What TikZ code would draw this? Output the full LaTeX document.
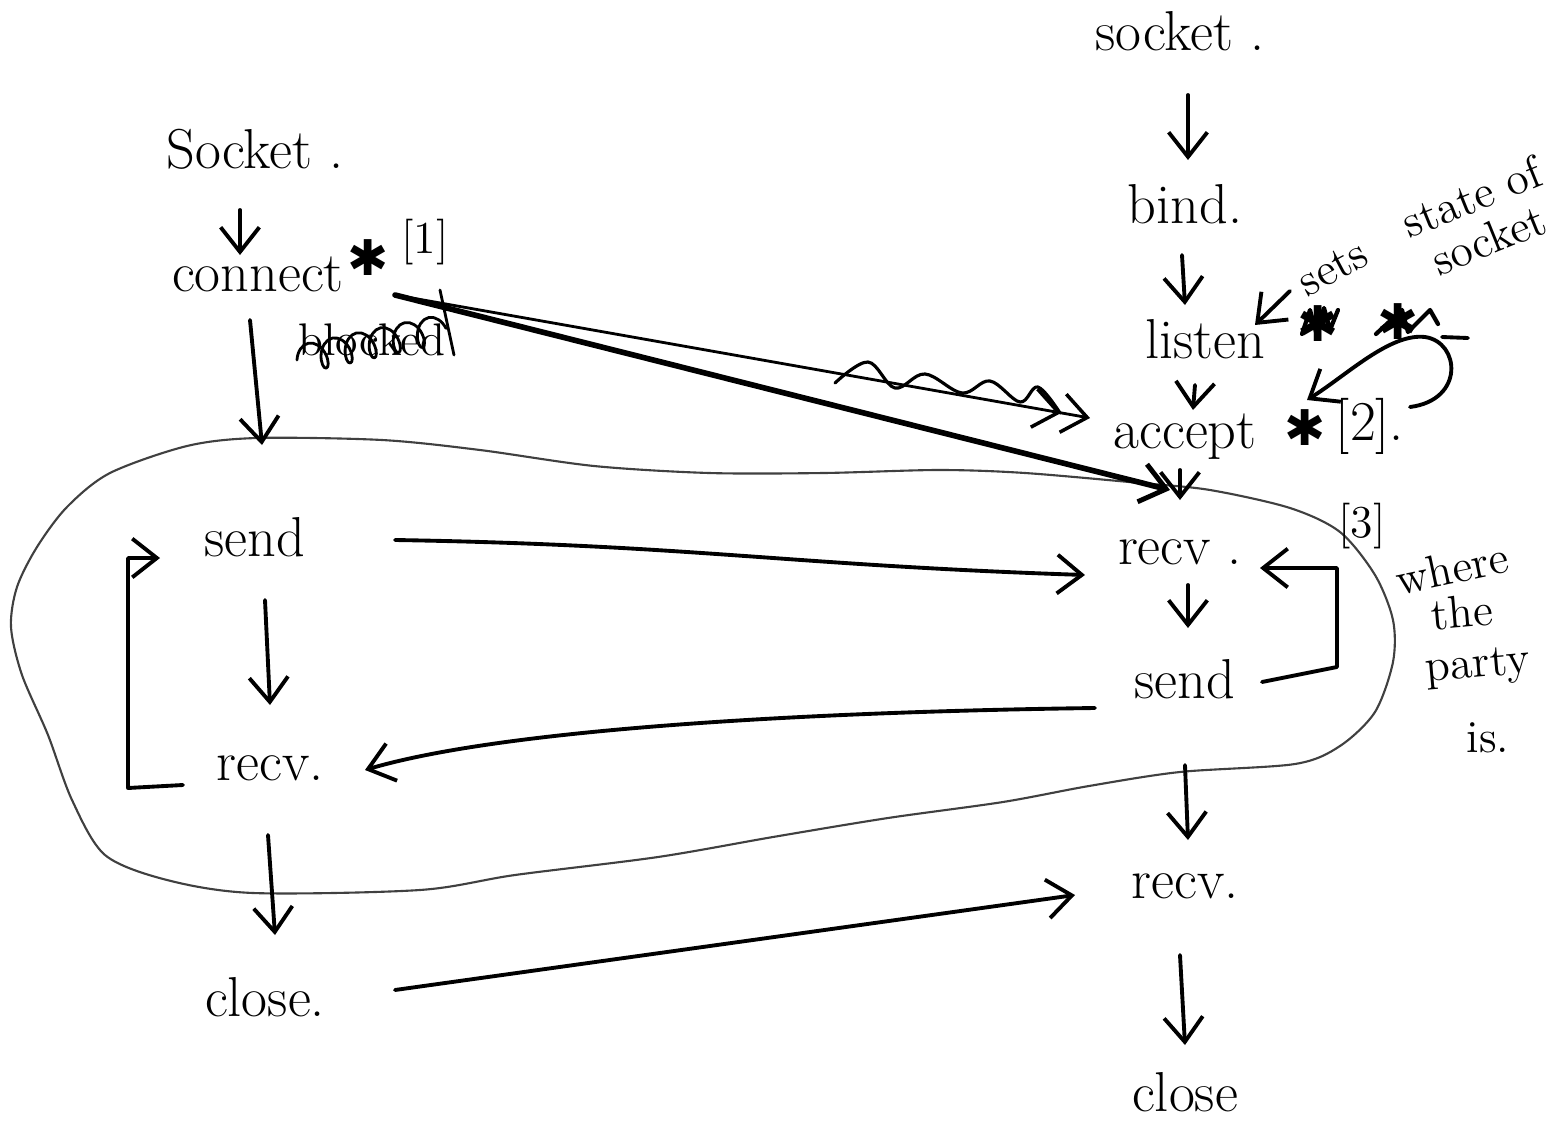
\documentclass[tikz,border=0pt]{standalone}
\usepackage{fontspec}
\newfontfamily\symf{DejaVu Sans}
\usetikzlibrary{arrows.meta,decorations.pathmorphing}
\begin{document}
\begin{tikzpicture}[x=0.01cm,y=-0.01cm,
  txt/.style={inner sep=0pt,text height=0.7em,text depth=0.2em,font=\fontsize{16}{19}\selectfont},
  small/.style={inner sep=0pt,font=\fontsize{13}{15}\selectfont},
  star/.style={inner sep=0pt,font=\symf\fontsize{14}{16}\selectfont},
  pen/.style={line width=1.1pt,line cap=round,line join=round},
  arr/.style={pen,-{Straight Barb[length=7pt,width=11pt,line width=1.1pt]}},
  thick arr/.style={line width=1.6pt,line cap=round,-{Straight Barb[length=7pt,width=11pt,line width=1.4pt]}},
  scribble/.style={line width=1.2pt,line cap=round,line join=round},
  loopline/.style={line width=0.6pt,draw=black!75}]
\useasboundingbox[fill=white] (0,0) rectangle (1553,1130);

% ---------- the "party" loop ----------
\draw[loopline] plot[smooth cycle,tension=0.5] coordinates {
  (257,438) (382,440) (480,450) (594,466) (709,473) (824,473) (939,470)
  (1025,473) (1140,483) (1210,490) (1290,508) (1340,532) (1375,575)
  (1393,620) (1393,662) (1375,712) (1340,746) (1295,764) (1180,772)
  (1089,786) (1003,802) (888,818) (773,837) (658,857) (515,875) (420,890)
  (253,893) (167,880) (105,855) (72,800) (48,735) (22,675) (11,627)
  (17,587) (37,547) (67,507) (110,473) (187,446)};

% ---------- left column ----------
\node[txt] (lsock)  at (255,160)  {Socket .};
\node[txt] (lconn)  at (258,283)  {connect};
\node[star] (lstar) at (368,258)  {✱};
\node[small] (lref1) at (425,242) {[1]};
\node[small] (lblk) at (372,340)  {blocked};
\node[txt] (lsend)  at (255,548)  {send};
\node[txt] (lrecv)  at (270,772)  {recv.};
\node[txt] (lclose) at (265,1008) {close.};

% scribble over "blocked"
\draw[pen,line width=0.8pt,decorate,decoration={coil,aspect=0.6,amplitude=4pt,segment length=7pt}]
  ([shift={(-75,20)}]lblk.center) -- ([shift={(75,-12)}]lblk.center);
\draw[pen,line width=0.8pt] ([shift={(68,-50)}]lblk.center) -- ([shift={(82,15)}]lblk.center);

% ---------- right column ----------
\node[txt] (rsock)  at (1180,42)  {socket .};
\node[txt] (rbind)  at (1185,215) {bind.};
\node[txt] (rlisten) at (1205,350) {listen};
\node[txt] (racc)   at (1185,440) {accept};
\node[star] (rstar) at (1305,428) {✱};
\node[txt] (rref2)  at (1370,432) {[2].};
\node[txt] (rrecv1) at (1180,556) {recv .};
\node[txt] (rsend)  at (1185,690) {send};
\node[txt] (rrecv2) at (1185,890) {recv.};
\node[txt] (rclose) at (1185,1103) {close};

% notes
\node[small,rotate=28] (sets) at (1333,268) {sets};
\node[small,rotate=22,align=center] (state) at (1480,218) {state of\\[-2pt]socket};
\node[star] (xs1) at (1318,324) {✱};
\node[star] (xs2) at (1398,322) {✱};
\node[small] (ref3) at (1362,526) {[3]};
\node[small,rotate=12] (where) at (1452,568) {where};
\node[small,rotate=5] (the) at (1462,612) {the};
\node[small,rotate=5] (party) at (1478,668) {party};
\node[small] (is) at (1488,738) {is.};

% scribbles over the two crossed-out stars
\draw[scribble] ([shift={(-16,10)}]xs1.center) -- ++(8,-24) -- ++(6,22) -- ++(8,-24) -- ++(6,22) -- ++(8,-20);
\draw[scribble] ([shift={(-22,12)}]xs2.center) -- ++(26,-24) -- ++(6,22) -- ++(22,-22) -- ++(8,14);

% ---------- vertical arrows ----------
\draw[arr] ([shift={(-15,50)}]lsock.center) -- ([shift={(-18,-28)}]lconn.center);
\draw[arr] ([shift={(-8,37)}]lconn.center) -- ([shift={(7,-103)}]lsend.center);
\draw[arr] ([shift={(10,52)}]lsend.center) -- ([shift={(0,-67)}]lrecv.center);
\draw[arr] ([shift={(-2,63)}]lrecv.center) -- ([shift={(10,-73)}]lclose.center);

\draw[arr] ([shift={(8,53)}]rsock.center) -- ([shift={(3,-55)}]rbind.center);
\draw[arr] ([shift={(-3,40)}]rbind.center) -- ([shift={(-20,-45)}]rlisten.center);
\draw[arr] ([shift={(-10,35)}]rlisten.center) -- ([shift={(8,-30)}]racc.center);
\draw[arr] ([shift={(-5,30)}]racc.center) -- ([shift={(0,-56)}]rrecv1.center);
\draw[arr] ([shift={(8,29)}]rrecv1.center) -- ([shift={(3,-62)}]rsend.center);
\draw[arr] ([shift={(0,75)}]rsend.center) -- ([shift={(3,-50)}]rrecv2.center);
\draw[arr] ([shift={(-5,65)}]rrecv2.center) -- ([shift={(0,-58)}]rclose.center);

% ---------- cross arrows ----------
\draw[arr] ([shift={(140,-8)}]lsend.center) .. controls +(300,5) and +(-300,-10) .. ([shift={(-95,19)}]rrecv1.center);
\draw[arr] ([shift={(-90,18)}]rsend.center) .. controls +(-300,4) and +(135,-40) .. ([shift={(95,-2)}]lrecv.center);
\draw[arr] ([shift={(130,-18)}]lclose.center) -- ([shift={(-110,5)}]rrecv2.center);

% connect -> accept
\draw[thick arr] ([shift={(137,12)}]lconn.center) -- ([shift={(-15,50)}]racc.center);
\draw[pen,line width=0.8pt,-{Straight Barb[length=7pt,width=11pt,line width=1pt]Straight Barb[length=7pt,width=11pt,line width=1pt]}]
  ([shift={(137,12)}]lconn.center) -- ([shift={(-95,-22)}]racc.center);
\draw[pen,line width=0.9pt] plot[smooth,tension=0.6] coordinates {
  (835,383) (868,362) (895,388) (925,374) (962,393) (990,381) (1020,402) (1038,387) (1060,413)};

% brackets (repeat loops)
\draw[arr] ([shift={(-87,13)}]lrecv.center) -- ++(-55,3) |- ([shift={(-95,10)}]lsend.center);
\draw[arr] ([shift={(77,-8)}]rsend.center) -- ++(75,-15) |- ([shift={(80,12)}]rrecv1.center);

% sets -> listen
\draw[arr] ([shift={(-43,23)}]sets.center) -- ([shift={(50,-25)}]rlisten.center);
% hooked arrow to accept's star
\draw[arr] ([shift={(40,-25)}]rref2.center) .. controls +(55,-7) and +(35,5) .. (1425,337)
  .. controls +(-35,-4) and +(40,-25) .. ([shift={(2,-28)}]rstar.center);
\draw[pen] ([shift={(44,15)}]xs2.center) -- ++(26,1);
\end{tikzpicture}
\end{document}
